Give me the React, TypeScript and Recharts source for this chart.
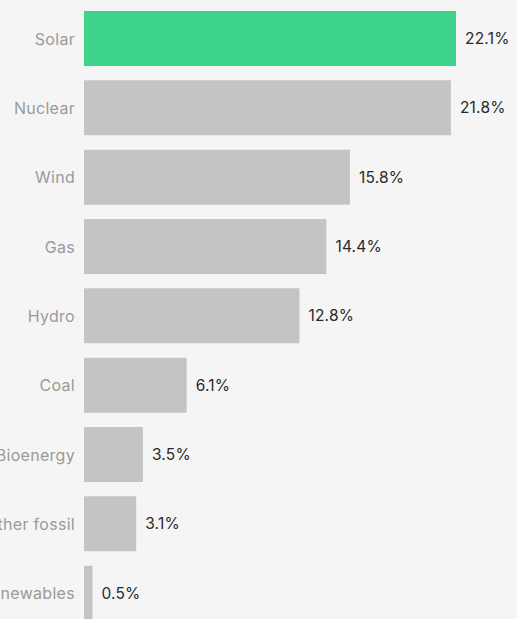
import React from "react";
import { BarChart, Bar, XAxis, YAxis, Cell, LabelList } from "recharts";

const categories = ["Solar", "Nuclear", "Wind", "Gas", "Hydro", "Coal", "Bioenergy", "Other fossil", "Other renewables"];
const shares = [22.1, 21.8, 15.8, 14.4, 12.8, 6.1, 3.5, 3.1, 0.5];
const highlight = "Solar";

const data = categories.map((name, i) => ({ name, value: shares[i] }));

const CategoryTick = (props: any) => {
  const { x, y, payload } = props;
  return (
    <text
      x={x - 1}
      y={y}
      textAnchor="end"
      dominantBaseline="central"
      fill="#9a9a9a"
      fontSize={16}
      letterSpacing={0.3}
      fontFamily="Inter, 'Noto Sans', sans-serif"
    >
      {payload.value}
    </text>
  );
};

export default function App() {
  return (
    <div
      style={{
        position: "absolute",
        left: 0,
        top: 0,
        width: 517,
        height: 619,
        overflow: "hidden",
        background: "#f5f5f5",
        fontFamily: "Inter, 'Noto Sans', sans-serif",
      }}
    >
      <BarChart
        width={517}
        height={630}
        data={data}
        layout="vertical"
        margin={{ top: 4, right: 61, bottom: 2, left: 0 }}
        style={{ overflow: "visible" }}
      >
        <XAxis type="number" hide domain={[0, "dataMax"]} />
        <YAxis
          type="category"
          dataKey="name"
          width={84}
          axisLine={false}
          tickLine={false}
          interval={0}
          tick={<CategoryTick />}
        />
        <Bar dataKey="value" barSize={55} isAnimationActive={false}>
          {data.map((d) => (
            <Cell key={d.name} fill={d.name === highlight ? "#3dd38b" : "#c4c4c4"} />
          ))}
          <LabelList
            dataKey="value"
            position="right"
            offset={9}
            formatter={(v: number) => `${v}%`}
            style={{ fill: "#2a2a2a", fontSize: 15.5, letterSpacing: 0.2 }}
          />
        </Bar>
      </BarChart>
    </div>
  );
}
